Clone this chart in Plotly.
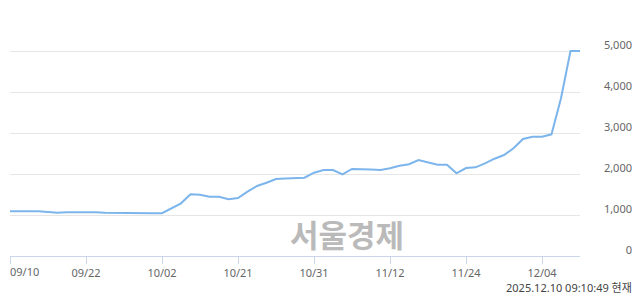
import plotly.graph_objects as go

dates = ["09/10", "09/11", "09/12", "09/15", "09/16", "09/17", "09/18", "09/19",
         "09/22", "09/23", "09/24", "09/25", "09/26", "09/29", "09/30", "10/01",
         "10/02", "10/10", "10/13", "10/14", "10/15", "10/16", "10/17", "10/20",
         "10/21", "10/22", "10/23", "10/24", "10/27", "10/28", "10/29", "10/30",
         "10/31", "11/03", "11/04", "11/05", "11/06", "11/07", "11/10", "11/11",
         "11/12", "11/13", "11/14", "11/17", "11/18", "11/19", "11/20", "11/21",
         "11/24", "11/25", "11/26", "11/27", "11/28", "12/01", "12/02", "12/03",
         "12/04", "12/05", "12/08", "12/09", "12/10"]

prices = [1090, 1095, 1098, 1090, 1075, 1056, 1070, 1073,
          1073, 1070, 1055, 1049, 1042, 1041, 1041, 1041,
          1045, 1160, 1285, 1505, 1495, 1446, 1446, 1383,
          1415, 1568, 1707, 1788, 1878, 1890, 1895, 1910,
          2032, 2098, 2098, 1993, 2122, 2122, 2110, 2098,
          2139, 2202, 2237, 2341, 2293, 2227, 2227, 2017,
          2146, 2163, 2261, 2373, 2463, 2627, 2854, 2910,
          2910, 2968, 3846, 5000, 5000]

x_tick_dates = ["09/10", "09/22", "10/02", "10/21", "10/31", "11/12", "11/24", "12/04"]
y_tick_vals = [0, 1000, 2000, 3000, 4000, 5000, 6000]
y_tick_text = ["0", "1,000", "2,000", "3,000", "4,000", "5,000", ""]
timestamp = "2025.12.10 09:10:49 현재"
watermark = "서울경제"

FONT = "Noto Sans, Noto Sans CJK KR, sans-serif"

fig = go.Figure()
fig.add_trace(go.Scatter(
    x=dates, y=prices, mode="lines",
    line=dict(color="#7cb5ec", width=2),
    hoverinfo="skip", showlegend=False,
))

x_ticktext = [""] + x_tick_dates[1:]

fig.update_layout(
    width=640, height=294,
    margin=dict(l=10, r=8, t=10, b=38),
    paper_bgcolor="white", plot_bgcolor="white",
    xaxis=dict(
        type="category", domain=[0, 570 / 622],
        range=[0, len(dates) - 1],
        tickmode="array", tickvals=x_tick_dates, ticktext=x_ticktext,
        ticks="outside", ticklen=7, tickcolor="#ccd6eb", tickwidth=1,
        showline=True, linecolor="#ccd6eb", linewidth=1,
        showgrid=False, zeroline=False,
        tickfont=dict(family=FONT, size=11, color="#666666"),
        fixedrange=True,
    ),
    yaxis=dict(
        range=[0, 6000], anchor="free", position=1.0, side="left",
        tickmode="array", tickvals=y_tick_vals, ticktext=y_tick_text,
        ticks="", showline=False, zeroline=False,
        showgrid=True, gridcolor="#e6e6e6", gridwidth=1,
        tickfont=dict(family=FONT, size=11, color="#666666"),
        ticklabelshift=-6,
        fixedrange=True,
    ),
    annotations=[
        dict(text=x_tick_dates[0], x=dates[0], xref="x", y=0, yref="paper",
             xanchor="left", yanchor="top", xshift=-2, yshift=-6, showarrow=False,
             font=dict(family=FONT, size=11, color="#666666")),
        dict(text=timestamp, x=1.0, xref="paper", y=-0.127, yref="paper",
             xanchor="right", yanchor="middle", xshift=1, showarrow=False,
             borderpad=0,
             font=dict(family=FONT, size=11, color="#444444")),
        dict(text="<b>" + watermark + "</b>", x=(347 - 10) / 622, xref="paper",
             y=(256 - 233) / 246, yref="paper", xanchor="center", yanchor="middle",
             showarrow=False,
             font=dict(family="Noto Sans CJK KR", size=31, color="#bababa")),
    ],
)

fig.write_html("out.html")
